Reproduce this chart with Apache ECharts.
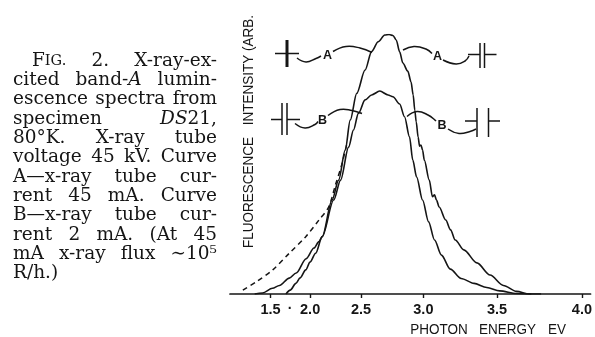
<!DOCTYPE html>
<html>
<head>
<meta charset="utf-8">
<script src="https://cdn.jsdelivr.net/npm/echarts@6/dist/echarts.min.js"></script>
<style>
  html, body { margin: 0; padding: 0; background: #fff; }
  #chart { width: 595px; height: 337px; }
</style>
</head>
<body>
<div id="chart"></div>
<script>
// Band-A luminescence spectra, specimen DS21 at 80 K.
// Photon energy in eV, intensity in arbitrary units (peak of curve A = 100).

const energyTicks = [1.5, 2.0, 2.5, 3.0, 3.5, 4.0];
const tickLabels = ['1.5', '2.0', '2.5', '3.0', '3.5', '4.0'];

// Curve A: 45 mA tube current
const energyA = [1.246, 1.379, 1.529, 1.626, 1.755, 1.840, 1.955, 2.042, 2.095, 2.129,
  2.229, 2.293, 2.356, 2.402, 2.461, 2.535, 2.591, 2.647, 2.701, 2.736,
  2.767, 2.793, 2.820, 2.845, 2.883, 2.908, 2.924, 2.936, 2.947, 2.961,
  2.972, 2.982, 2.994, 3.007, 3.043, 3.066, 3.081, 3.095, 3.114, 3.160,
  3.194, 3.226, 3.284, 3.371, 3.456, 3.540, 3.621, 3.698, 3.768];
const intensityA = [0, 0.4, 2.2, 3.3, 6.1, 8.1, 13.6, 17.7, 20.2, 22.1,
  36.2, 43.9, 55.5, 67.0, 77.3, 86.3, 93.4, 97.2, 99.8, 100,
  99.6, 97.9, 93.3, 89.0, 85.9, 81.7, 76.7, 70.9, 66.3, 60.5,
  57.0, 57.4, 55.5, 51.6, 43.9, 37.5, 38.2, 36.2, 33.5, 28.5,
  24.7, 20.8, 17.0, 12.0, 7.3, 3.3, 1.0, 0, 0];

// Curve B: 2 mA tube current
const energyB = [1.713, 1.767, 1.836, 1.886, 1.951, 1.999, 2.060, 2.129, 2.245, 2.312,
  2.387, 2.432, 2.476, 2.535, 2.591, 2.660, 2.728, 2.767, 2.820, 2.858,
  2.896, 2.921, 2.950, 2.994, 3.038, 3.081, 3.130, 3.192, 3.266, 3.352,
  3.435, 3.517, 3.621, 3.710];
const intensityB = [0, 1.5, 4.1, 6.2, 9.3, 12.3, 15.7, 22.1, 36.2, 43.9,
  56.6, 63.2, 69.6, 74.8, 76.7, 78.2, 76.7, 76.0, 73.2, 68.3,
  60.6, 51.6, 45.1, 36.2, 27.8, 20.8, 15.0, 9.6, 6.0, 4.1,
  2.5, 1.2, 0.2, 0];

// Dashed low-energy tail
const energyDashed = [1.015, 1.275, 1.533, 1.755, 1.951, 2.095, 2.196, 2.262, 2.322, 2.368];
const intensityDashed = [1.5, 4.7, 9.3, 15.7, 22.1, 28.5, 33.6, 42.0, 49.7, 57.4];

// Caption words; each word is a list of [style, text] runs
const captionLines = [
  [[['n', 'F'], ['s', 'IG.']], [['n', '2.']], [['n', 'X-ray-ex-']]],
  [[['n', 'cited']], [['n', 'band-'], ['i', 'A']], [['n', 'lumin-']]],
  [[['n', 'escence']], [['n', 'spectra']], [['n', 'from']]],
  [[['n', 'specimen']], [['i', 'DS'], ['n', '21,']]],
  [[['n', '80°K.']], [['n', 'X-ray']], [['n', 'tube']]],
  [[['n', 'voltage']], [['n', '45']], [['n', 'kV.']], [['n', 'Curve']]],
  [[['n', 'A—x-ray']], [['n', 'tube']], [['n', 'cur-']]],
  [[['n', 'rent']], [['n', '45']], [['n', 'mA.']], [['n', 'Curve']]],
  [[['n', 'B—x-ray']], [['n', 'tube']], [['n', 'cur-']]],
  [[['n', 'rent']], [['n', '2']], [['n', 'mA.']], [['n', '(At']], [['n', '45']]],
  [[['n', 'mA']], [['n', 'x-ray']], [['n', 'flux']], [['n', '∼10⁵']]],
  [[['n', 'R/h.)']]]
];

// The energy scale of this plot runs linearly in E squared
const sq = e => e * e;
const toPoints = (es, is) => es.map((e, k) => [sq(e), is[k]]);

const INK = '#151515';
const SERIF = 'DejaVu Serif';
const SANS = 'Liberation Sans';
const CAP_SIZE = 18.5;
const runStyles = {
  n: { size: CAP_SIZE, italic: false },
  i: { size: CAP_SIZE, italic: true },
  s: { size: 14.5, italic: false }
};

const measureCtx = document.createElement('canvas').getContext('2d');
function runWidth(style, text) {
  const st = runStyles[style];
  measureCtx.font = (st.italic ? 'italic ' : '') + st.size + 'px "' + SERIF + '"';
  return measureCtx.measureText(text).width;
}
const wordWidth = w => w.reduce((s, r) => s + runWidth(r[0], r[1]), 0);

const rich = {};
Object.keys(runStyles).forEach(k => {
  rich[k] = {
    fontSize: runStyles[k].size,
    fontStyle: runStyles[k].italic ? 'italic' : 'normal',
    fontFamily: SERIF,
    fill: INK,
    lineHeight: 20
  };
});

// Justified caption block
function captionGraphics() {
  const out = [];
  const right = 217;
  captionLines.forEach((line, li) => {
    const left = li === 0 ? 32 : 13;
    const y = 61 + li * 19.3;
    const widths = line.map(wordWidth);
    const total = widths.reduce((a, b) => a + b, 0);
    const last = li === captionLines.length - 1;
    const gap = (line.length > 1 && !last) ? (right - left - total) / (line.length - 1) : runWidth('n', ' ');
    let x = left;
    line.forEach((word, wi) => {
      out.push({
        type: 'text', x: x, y: y, silent: true,
        style: {
          text: word.map(r => '{' + r[0] + '|' + r[1] + '}').join(''),
          rich: rich, align: 'left', verticalAlign: 'middle'
        }
      });
      x += widths[wi] + gap;
    });
  });
  return out;
}

function seg(x1, y1, x2, y2, w) {
  return { type: 'line', silent: true, shape: { x1, y1, x2, y2 }, style: { stroke: INK, lineWidth: w || 1.5 } };
}
function curve(points) {
  return { type: 'polyline', silent: true, shape: { points, smooth: 0.45 }, style: { stroke: INK, fill: null, lineWidth: 1.5 } };
}
function letter(text, x, y) {
  return { type: 'text', x, y, silent: true,
    style: { text, fontFamily: SANS, fontWeight: 'bold', fontSize: 12.5, fill: INK, align: 'center', verticalAlign: 'middle' } };
}
function sansWord(text, x, y, rot) {
  return { type: 'text', x, y, rotation: rot || 0, scaleX: 0.9, silent: true,
    style: { text, fontFamily: SANS, fontSize: 15, fill: INK, align: 'center', verticalAlign: 'middle' } };
}

// Curve identification marks
const markGraphics = [
  // left A
  seg(287, 40, 287, 67, 3), seg(275, 53.5, 299, 53.5),
  curve([[297, 58], [306, 62], [316, 58.5], [321, 56]]), letter('A', 327.5, 55.5),
  curve([[333, 51.5], [346, 46.5], [360, 48], [372, 52.5]]),
  // right A
  curve([[403, 50], [414, 46.5], [426, 49], [432, 53.5]]), letter('A', 437.5, 56.5),
  curve([[443, 60], [456, 64], [465, 61], [469, 56]]),
  seg(468, 54.5, 480, 54.5), seg(480, 43, 480, 68), seg(484.5, 43, 484.5, 68), seg(484.5, 54.5, 496.5, 54.5),
  // left B
  seg(271, 119.5, 282, 119.5), seg(282, 103, 282, 135), seg(287, 103, 287, 135), seg(287, 119.5, 300, 119.5),
  curve([[295, 123.5], [305, 128], [315, 124.5], [318, 121.5]]), letter('B', 322.5, 120.5),
  curve([[328, 115.5], [340, 109.5], [352, 110.5], [362, 113.5]]),
  // right B
  curve([[407, 116.5], [417, 111.5], [428, 115], [436, 121]]), letter('B', 442, 125.5),
  curve([[448, 129], [459, 133.5], [470, 131.5], [476, 129]]),
  seg(465, 121, 477, 121), seg(477, 108, 477, 137), seg(488.5, 108, 488.5, 137), seg(488.5, 121, 500, 121)
];

const titleGraphics = [
  sansWord('FLUORESCENCE', 249, 192.5, Math.PI / 2),
  sansWord('INTENSITY', 249, 90, Math.PI / 2),
  sansWord('(ARB.', 249, 33, Math.PI / 2),
  sansWord('PHOTON', 439, 330),
  sansWord('ENERGY', 507.5, 330),
  sansWord('EV', 557, 330),
  { type: 'text', x: 290, y: 309, silent: true,
    style: { text: '·', fontFamily: SANS, fontWeight: 'bold', fontSize: 14, fill: INK, align: 'center', verticalAlign: 'middle' } }
];

const chart = echarts.init(document.getElementById('chart'), null, { renderer: 'canvas' });
const tickPositions = energyTicks.map(sq);

chart.setOption({
  animation: false,
  backgroundColor: '#fff',
  grid: { left: 230, right: 0, top: 34.5, bottom: 43, containLabel: false },
  xAxis: {
    type: 'value',
    min: (230 - 219.4) / 22.93,
    max: (595 - 219.4) / 22.93,
    axisLine: { show: true, onZero: false, lineStyle: { color: INK, width: 1.7 } },
    axisTick: { show: true, customValues: tickPositions, length: 4, lineStyle: { color: INK, width: 1.4 } },
    axisLabel: {
      show: true,
      customValues: tickPositions,
      margin: 8,
      color: INK,
      fontFamily: SANS,
      fontWeight: 'bold',
      fontSize: 14.5,
      formatter: v => {
        const k = energyTicks.findIndex(e => Math.abs(sq(e) - v) < 1e-6);
        return k < 0 ? '' : tickLabels[k];
      }
    },
    splitLine: { show: false }
  },
  yAxis: { type: 'value', min: 0, max: 100, show: false },
  series: [
    {
      name: 'A', type: 'line', data: toPoints(energyA, intensityA),
      symbol: 'none', smooth: 0.3, smoothMonotone: 'x',
      lineStyle: { color: INK, width: 1.6 }, z: 3
    },
    {
      name: 'B', type: 'line', data: toPoints(energyB, intensityB),
      symbol: 'none', smooth: 0.3, smoothMonotone: 'x',
      lineStyle: { color: INK, width: 1.6 }, z: 3
    },
    {
      name: 'tail', type: 'line', data: toPoints(energyDashed, intensityDashed),
      symbol: 'none', smooth: 0.3,
      lineStyle: { color: INK, width: 1.5, type: [5, 4] }, z: 2
    }
  ],
  graphic: captionGraphics().concat(markGraphics, titleGraphics)
});
</script>
</body>
</html>
